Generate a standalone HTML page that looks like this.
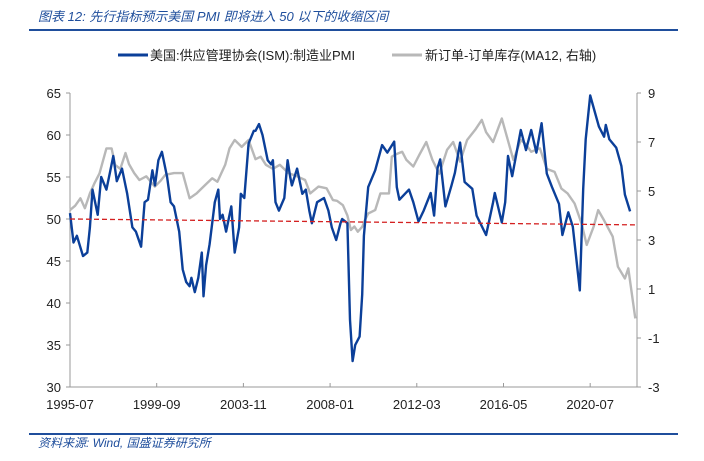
<!DOCTYPE html>
<html><head><meta charset="utf-8"><style>
body{margin:0;background:#fff;width:704px;height:461px;overflow:hidden;font-family:"Liberation Sans","Noto Sans CJK SC",sans-serif;}
svg{display:block}
</style></head><body>
<svg id="chart" width="704" height="461" xmlns="http://www.w3.org/2000/svg" font-family="Liberation Sans, Noto Sans CJK SC, sans-serif">
<text x="38" y="21" font-size="13" font-style="italic" fill="#1f4e9c">图表 12:  先行指标预示美国 PMI 即将进入 50 以下的收缩区间</text>
<line x1="29" y1="30" x2="678" y2="30" stroke="#1f4e9c" stroke-width="2"/>
<g>
<line x1="118" y1="55" x2="148" y2="55" stroke="#0b3f99" stroke-width="3"/>
<text x="150" y="60" font-size="13" fill="#222">美国:供应管理协会(ISM):制造业PMI</text>
<line x1="392" y1="55" x2="422" y2="55" stroke="#b8b8b8" stroke-width="3"/>
<text x="425" y="60" font-size="13" fill="#222">新订单-订单库存(MA12, 右轴)</text>
</g>
<g id="axes"></g>
<g id="marks"></g>
<line x1="29" y1="434" x2="678" y2="434" stroke="#1f4e9c" stroke-width="2"/>
<text x="38" y="447" font-size="12" font-style="italic" fill="#1f4e9c">资料来源:  Wind, 国盛证券研究所</text>
</svg>
<script>
const xLabels=["1995-07","1999-09","2003-11","2008-01","2012-03","2016-05","2020-07"];
const xLabelMonths=[0,50,100,150,200,250,300];
const leftTicks=[30,35,40,45,50,55,60,65];
const rightTicks=[-3,-1,1,3,5,7,9];
const pmiMonths=[0,2,4,7.5,10,11.5,13,16,18,21,23,25,27,30,33,36,38,41,43,45,47.5,49,51,53,56,58,60,63,65,67,69,70,72,74,76,77,78.5,80.5,83.5,85.5,86.5,88,90,93,95,97.5,98.5,100.5,103,106,107,109,111,114,116,117,118.5,120.5,123.6,125.5,127,128,131,134,136,138,139.5,142.5,146.5,149,151,153.5,156,157,160,161.5,163,164.5,167,168.5,169.5,172,176,180,183,187,188.5,190,195.5,198,201,204,208,210,212,213.5,216.5,220,222,225,227.6,232,234.5,240,244,245,249,251,252.6,255,260,263,266,269,272,275,278,282,284,287.4,290,294,296,297.4,300,305,308,309,311,315,318,320,323,326,327];
const pmiValues=[50.7,47.2,48,45.6,46,49,53.5,50.5,55,53.5,55.5,57.5,54.5,56,53,49,48.5,46.7,52,52.3,55.8,54,57,58,55,52,51.5,48.5,44,42.5,42,43,41.3,43,46,40.8,44.5,47,52,53.5,50,50.5,48.5,51.5,46,49,53,52.5,59,60.5,60.5,61.3,60,57,56.5,57,52,51,52.5,57,55,54,56,53,53.5,51,49.5,52,52.5,51,49,47.5,49.5,50,49.5,38,33.1,35,36,41,48,53.8,55.8,58.8,57.9,59.2,53.8,52.3,53.5,52,49.7,51,53.1,50.4,56.1,57.1,51.5,54,55.5,59.1,54.4,53.6,50.4,48.1,52,53.1,49.6,52,57.5,55.1,60.6,58.2,60.6,57.9,61.4,55.4,53.8,51.8,48.1,50.8,49.1,41.5,53.6,59.5,64.7,61,59.8,61.2,59.5,58.5,56.3,52.9,50.9];
const ordMonths=[0,3,6,8.6,11.5,14,17,21,24,26,29,32,34,37,40,44,48.9,52,55,60,65,69,73,77,82,85,89.5,92,95,99,103,107,110,113,117,121,126,131,135.6,138.5,143.3,148,151.6,154,157.4,160,162,164,166,168.5,170,172,176,179,184,185.6,188,191.6,194,198,201.6,205.5,209,213,217.5,221,225,229,233.7,237.5,240,244,249,252,255.7,260,263,266,271,275,279.5,283.4,287,291,295,298,302,304.6,308,313,316,320,322,326];
const ordValues=[4.22,4.4,4.7,4.3,4.9,5.3,5.72,6.74,6.74,6.07,5.9,6.55,6.1,5.73,5.45,5.6,5.18,5.4,5.66,5.73,5.73,4.7,4.9,5.18,5.52,5.38,6.07,6.74,7.08,6.8,7.08,6.3,6.4,6.07,5.9,6.07,5.73,5.6,5.45,4.9,5.18,5.11,4.63,4.6,4.42,4.0,3.41,3.55,3.34,3.54,3.8,4.08,4.22,4.9,4.9,6.4,6.5,6.6,6.27,6.0,6.5,7.0,6.27,5.7,6.68,7.0,6.2,7.08,7.5,7.9,7.4,7.0,7.96,7.2,6.27,7.08,6.9,6.6,6.74,5.9,5.78,5.1,4.9,4.49,3.68,2.8,3.55,4.22,3.8,3.14,1.91,1.43,1.84,-0.2];
const threshStart=50.0, threshEnd=49.3;

const X0=70,X1=637,Y0=93,Y1=387,M_END=327;
const xs=m=>X0+(X1-X0)*m/M_END;
const yL=v=>Y1-(v-30)/(65-30)*(Y1-Y0);
const yR=v=>Y1-(v+3)/(9+3)*(Y1-Y0);
const NS="http://www.w3.org/2000/svg";
function mk(tag,attrs,parent,text){const e=document.createElementNS(NS,tag);for(const k in attrs)e.setAttribute(k,attrs[k]);if(text!==undefined)e.textContent=text;parent.appendChild(e);return e;}
const axes=document.getElementById('axes'),marks=document.getElementById('marks');
let e;
e=mk('line',{x1:X0,y1:Y0,x2:X0,y2:Y1,stroke:'#999'},axes);


e=mk('line',{x1:X1,y1:Y0,x2:X1,y2:Y1,stroke:'#999'},axes);


e=mk('line',{x1:X0,y1:Y1,x2:X1,y2:Y1,stroke:'#999'},axes);


leftTicks.forEach(v=>{const y=yL(v);
 e=mk('line',{x1:X0-4,y1:y,x2:X0,y2:y,stroke:'#999'},axes);
 
 
 e=mk('text',{x:X0-9,y:y+5,'font-size':13,'text-anchor':'end',fill:'#222'},axes,String(v));
 
 });
rightTicks.forEach(v=>{const y=yR(v);
 e=mk('line',{x1:X1,y1:y,x2:X1+4,y2:y,stroke:'#999'},axes);
 
 
 e=mk('text',{x:X1+11,y:y+5,'font-size':13,fill:'#222'},axes,String(v));
 
 });
xLabels.forEach((l,i)=>{const x=xs(xLabelMonths[i]);
 e=mk('line',{x1:x,y1:Y1-4,x2:x,y2:Y1,stroke:'#999'},axes);
 
 
 e=mk('text',{x:x,y:409,'font-size':13,'text-anchor':'middle',fill:'#222'},axes,l);
 
 });
e=mk('polyline',{points:ordMonths.map((m,i)=>xs(m).toFixed(1)+','+yR(ordValues[i]).toFixed(1)).join(' '),fill:'none',stroke:'#b8b8b8','stroke-width':2.4,'stroke-linejoin':'round'},marks);


e=mk('polyline',{points:pmiMonths.map((m,i)=>xs(m).toFixed(1)+','+yL(pmiValues[i]).toFixed(1)).join(' '),fill:'none',stroke:'#0b3f99','stroke-width':2.4,'stroke-linejoin':'round'},marks);


e=mk('line',{x1:X0,y1:yL(threshStart),x2:X1,y2:yL(threshEnd),stroke:'#d42020','stroke-width':1.3,'stroke-dasharray':'5,3'},marks);


</script>
</body></html>
